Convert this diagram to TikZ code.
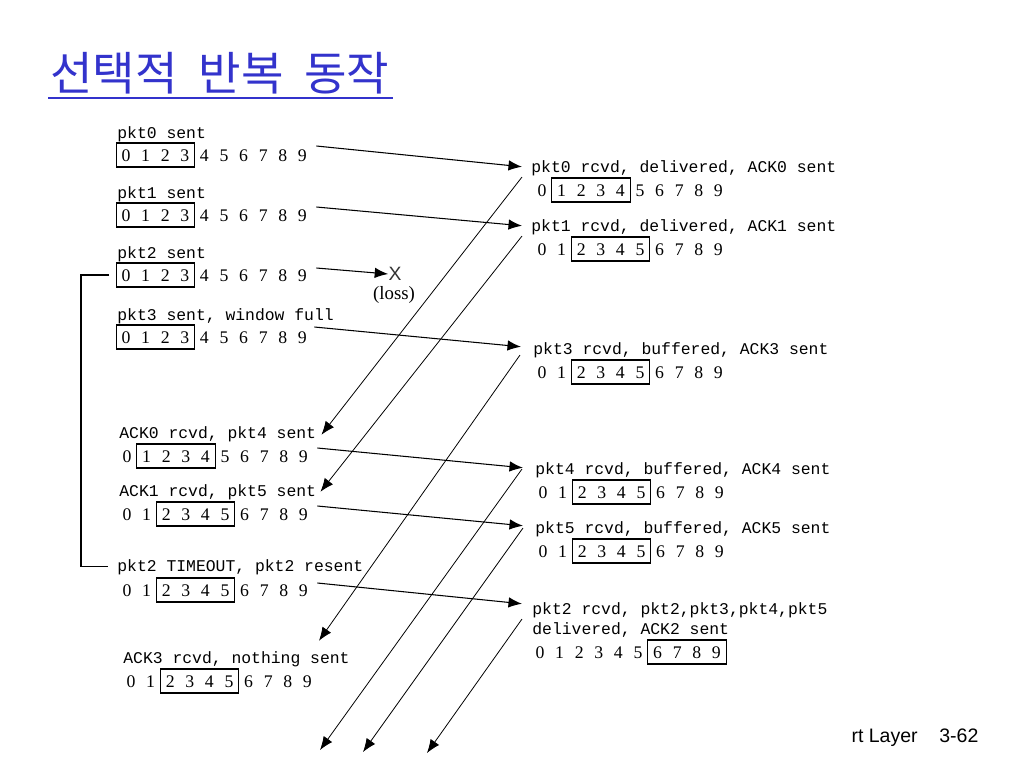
\documentclass[tikz,border=0pt]{standalone}
\usepackage{fontspec}
\setmainfont{Liberation Serif}
\newfontfamily\pktfont{Liberation Mono}
\newfontfamily\titlefont[WordSpace=2.0]{Noto Sans CJK KR}
\newfontfamily\footfont{Liberation Sans}
\usepackage{tikz}
\usetikzlibrary{positioning,calc,arrows.meta}

\begin{document}
\begin{tikzpicture}[x=0.02cm,y=-0.02cm]
	\definecolor{ttlblue}{RGB}{51,51,204}
	\tikzset{
		lbl/.style={
			anchor=base west,
			inner sep=0pt,
			font=\pktfont\fontsize{9.33}{11}\selectfont
		},
		digit/.style={
			inner sep=0pt,
			font=\fontsize{10.1}{12}\selectfont
		},
		win/.style={
			draw,
			line width=0.7pt
		},
		pkt/.style={
			-{Latex[length=0.27cm,width=0.21cm]},
			line width=0.6pt
		},
		ack/.style={
			-{Latex[length=0.27cm,width=0.21cm]},
			line width=0.45pt
		},
		foot/.style={
			inner sep=0pt,
			font=\footfont\fontsize{11.1}{13}\selectfont
		}
	}
	\useasboundingbox (0,0) rectangle (1024,768);
	
	% ======= Title =======
	\node[font=\titlefont\fontsize{26.3}{30}\selectfont, text=ttlblue, anchor=base west, inner sep=0pt] (ttl) at (50,90) {선택적 반복 동작};
	\draw[ttlblue, line width=1.1pt] ($(ttl.base west)+(-2,8)$) -- ($(ttl.base east)+(3,8)$);
	
	% ======= Window rows (sender s*, receiver r*) =======
	\foreach \nm/\xo/\yr/\lo/\hi in {s0/126/155/0/3, s1/126/215/0/3, s2/126/275/0/3, s3/126/337/0/3,
		s4/127/456/1/4, s5/127/514/2/5, s6/127/590/2/5, s7/131/681/2/5,
		r0/542/190/1/4, r1/542/249/2/5, r3/542/372/2/5, r4/543/492/2/5, r5/543/551/2/5, r2/540/652/6/9}{
		\foreach \d in {0,...,9}
			\node[digit] (\nm-\d) at (\xo+\d*19.6,\yr+1) {\d};
		\draw[win] (\xo+\lo*19.6-9.8,\yr-12) rectangle (\xo+\hi*19.6+9.8,\yr+12);
	}
	
	% ======= Sender labels =======
	\node[lbl] (s0) at (117,138) {pkt0 sent};
	\node[lbl] (s1) at (117,198) {pkt1 sent};
	\node[lbl] (s2) at (117,258) {pkt2 sent};
	\node[lbl] (s3) at (117,320) {pkt3 sent, window full};
	\node[lbl] (s4) at (119,438) {ACK0 rcvd, pkt4 sent};
	\node[lbl] (s5) at (119,496) {ACK1 rcvd, pkt5 sent};
	\node[lbl] (s6) at (117,571) {pkt2 TIMEOUT, pkt2 resent};
	\node[lbl] (s7) at (123,663) {ACK3 rcvd, nothing sent};
	
	% ======= Receiver labels =======
	\node[lbl] (r0) at (531,172) {pkt0 rcvd, delivered, ACK0 sent};
	\node[lbl] (r1) at (531,231) {pkt1 rcvd, delivered, ACK1 sent};
	\node[lbl] (r3) at (533,354) {pkt3 rcvd, buffered, ACK3 sent};
	\node[lbl] (r4) at (535,474) {pkt4 rcvd, buffered, ACK4 sent};
	\node[lbl] (r5) at (535,533) {pkt5 rcvd, buffered, ACK5 sent};
	\node[lbl] (r2) at (532,614) {pkt2 rcvd, pkt2,pkt3,pkt4,pkt5};
	\node[lbl] (r2b) at (532,634) {delivered, ACK2 sent};
	
	% ======= Loss =======
	\node[inner sep=0pt, text=black!80, font=\footfont\fontsize{11}{12}\selectfont] (x2) at (395,274) {X};
	\node[inner sep=0pt, font=\fontsize{10.7}{12}\selectfont] (loss) at (394,295) {(loss)};
	
	% ======= Timeout =======
	\draw[line width=0.7pt] ($(s2-0)+(-17,-1)$) -- ++(-28,0) |- ($(s6.west)+(-9,0)$);
	
	% ======= Data packets =======
	\draw[pkt] ($(s0-9)+(14,-10)$) -- ($(r0.west)+(-9,-1)$);
	\draw[pkt] ($(s1-9)+(14,-9)$) -- ($(r1.west)+(-9,-1)$);
	\draw[pkt] ($(s2-9)+(14,-8)$) -- (x2.west);
	\draw[pkt] ($(s3-9)+(12,-11)$) -- ($(r3.west)+(-12,-3)$);
	\draw[pkt] ($(s4-9)+(14,-9)$) -- ($(r4.west)+(-12,-2)$);
	\draw[pkt] ($(s5-9)+(14,-9)$) -- ($(r5.west)+(-12,-3)$);
	\draw[pkt] ($(s6-9)+(14,-8)$) -- ($(r2.west)+(-10,-6)$);
	
	% ======= ACKs =======
	\coordinate (a4) at (320,750);
	\coordinate (a5) at (363,752);
	\coordinate (a2) at (427,753);
	\draw[ack] ($(r0-0)+(-20,-14)$) -- ($(s4.east)+(5,1)$);
	\draw[ack] ($(r1-0)+(-20,-14)$) -- ($(s5.east)+(4,0)$);
	\draw[ack] ($(r3-0)+(-22,-18)$) -- ($(s7.north east)+(-31,-10)$);
	\draw[ack] ($(r4-0)+(-21,-24)$) -- (a4);
	\draw[ack] ($(r5-0)+(-20,-24)$) -- (a5);
	\draw[ack] ($(r2-0)+(-18,-34)$) -- (a2);
	
	% ======= Footer =======
	\begin{scope}
		\clip (851,720) rectangle (1000,760);
		\node[foot, anchor=base east] (lay) at (918,742) {Transport Layer};
	\end{scope}
	\node[foot, anchor=base west] (pg) at (939,742) {3-62};
\end{tikzpicture}
\end{document}
